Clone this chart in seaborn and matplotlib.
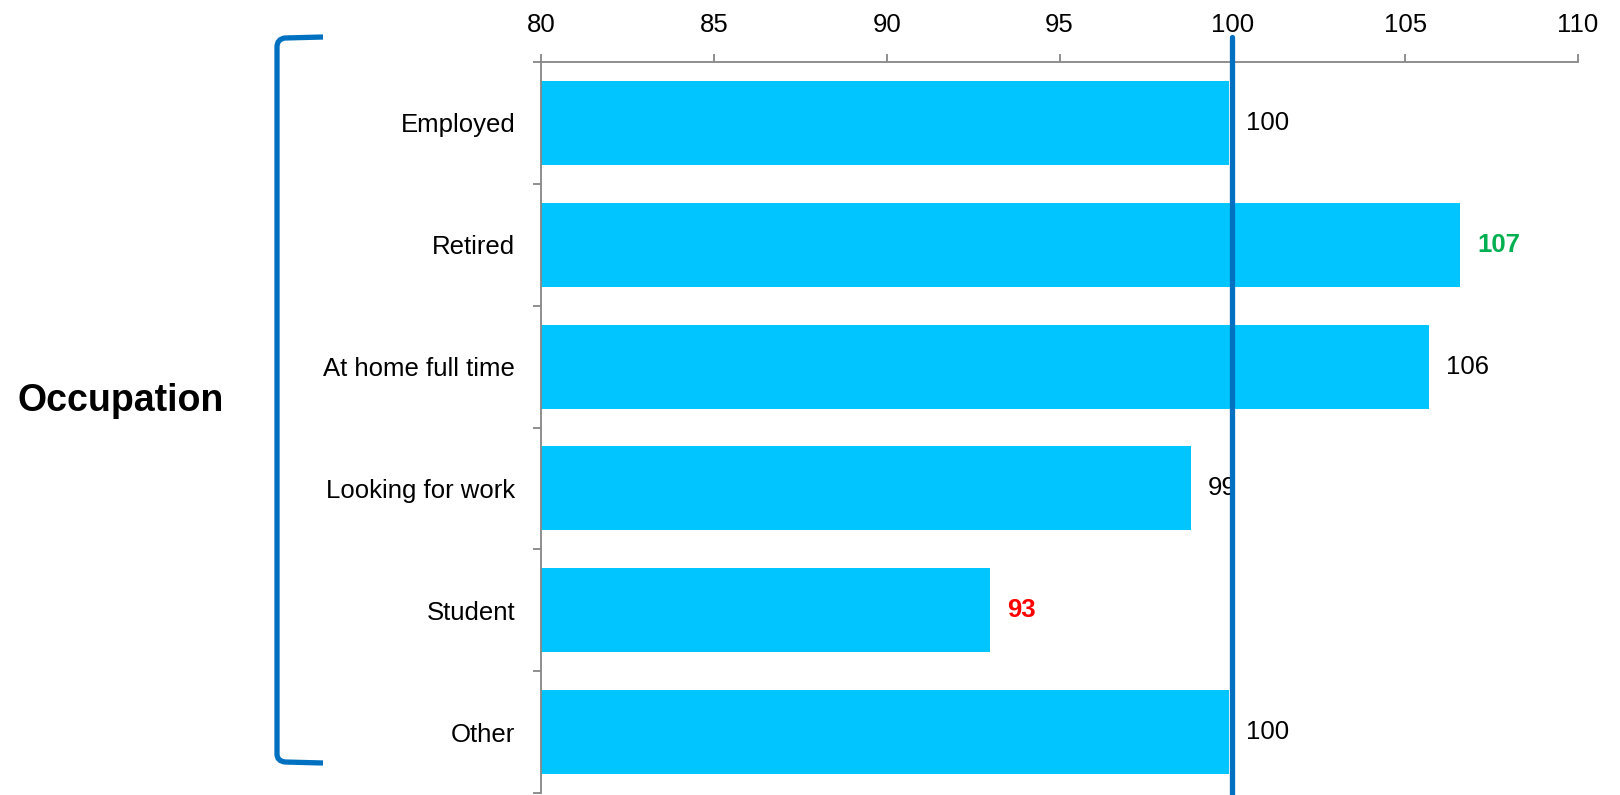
import numpy as np
import pandas as pd
import matplotlib
matplotlib.use("Agg")
import matplotlib.pyplot as plt
import matplotlib.transforms as mtransforms
from matplotlib.path import Path
from matplotlib.patches import PathPatch
import seaborn as sns

# Index values by occupation (100 = average)
categories = ["Employed", "Retired", "At home full time", "Looking for work", "Student", "Other"]
index_values = [99.9, 106.6, 105.7, 98.8, 93.0, 99.9]
label_colors = ["black", "#00B050", "black", "black", "#FF0000", "black"]
label_weights = ["normal", "bold", "normal", "normal", "bold", "normal"]
x_ticks = [80, 85, 90, 95, 100, 105, 110]
group_title = "Occupation"
reference_value = 100

sns.set_theme(style="white")
plt.rcParams["font.family"] = ["Liberation Sans", "DejaVu Sans"]

W, H = 1620, 795
fig = plt.figure(figsize=(W / 100, H / 100), dpi=100)
ax = fig.add_axes([541 / W, 1 - 793 / H, (1578 - 541) / W, (793 - 62) / H])

df = pd.DataFrame({"category": categories, "value": index_values})
sns.barplot(data=df, x="value", y="category", orient="h", color="#00C5FF",
            width=0.69, linewidth=0, saturation=1, ax=ax)

ax.set_xlim(x_ticks[0], x_ticks[-1])
ax.set_ylim(len(categories) - 0.5, -0.5)
ax.set_xlabel("")
ax.set_ylabel("")

axis_grey = "#868686"
# x axis along the top
ax.xaxis.tick_top()
ax.set_xticks(x_ticks)
ax.set_xticklabels([str(t) for t in x_ticks])
ax.tick_params(axis="x", which="major", direction="out", length=5.8, width=1.3,
               color=axis_grey, pad=12, labelsize=18.5, labelcolor="black")

# category labels, with tick marks on the category boundaries
ax.set_yticks(range(len(categories)))
ax.set_yticklabels(categories)
ax.tick_params(axis="y", which="major", length=0, pad=18.5, labelsize=18.5,
               labelcolor="black")
ax.set_yticks(np.arange(-0.5, len(categories)), minor=True)
ax.tick_params(axis="y", which="minor", direction="out", length=5.8, width=1.3,
               color=axis_grey, left=True)

for side in ["right", "bottom"]:
    ax.spines[side].set_visible(False)
for side in ["top", "left"]:
    ax.spines[side].set_visible(True)
    ax.spines[side].set_color(axis_grey)
    ax.spines[side].set_linewidth(1.3)
ax.grid(False)

# value labels at the bar ends
for i, (v, c, w) in enumerate(zip(index_values, label_colors, label_weights)):
    ax.annotate(f"{v:.0f}", xy=(v, i), xytext=(12, 0), textcoords="offset points",
                ha="left", va="center", fontsize=18.5, color=c, fontweight=w)

# reference line at 100, running past the top axis
ax.axvline(reference_value, ymin=-0.01, ymax=1 + 25 / 731, color="#0070C0",
           linewidth=3.8, clip_on=False, zorder=5)

# bracket and group title on the left
px = mtransforms.Affine2D().scale(1 / W, -1 / H).translate(0, 1) + fig.transFigure
verts = [(323, 37), (285, 38), (277, 39), (277, 47), (277, 754), (277, 761),
         (285, 762), (323, 763)]
codes = [Path.MOVETO, Path.LINETO, Path.CURVE3, Path.CURVE3, Path.LINETO,
         Path.CURVE3, Path.CURVE3, Path.LINETO]
bracket = PathPatch(Path(verts, codes), facecolor="none", edgecolor="#0070C0",
                    linewidth=3.8, transform=px, capstyle="butt")
fig.add_artist(bracket)

fig.text(121 / W, 1 - 401 / H, group_title, ha="center", va="center",
         fontsize=27, fontweight="bold", color="black")

fig.savefig("out.png", dpi=100)
